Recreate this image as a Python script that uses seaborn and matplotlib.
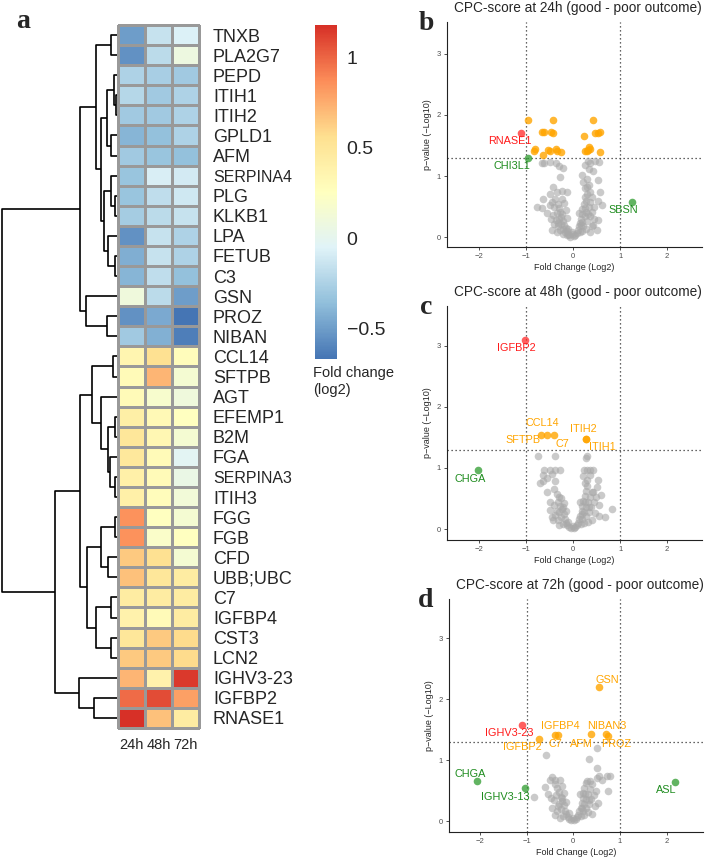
import numpy as np
import pandas as pd
import matplotlib
matplotlib.use("Agg")
import matplotlib.pyplot as plt
import seaborn as sns
from matplotlib.colors import LinearSegmentedColormap

# ---- panel a: heatmap data (fold change, log2) ----
proteins = ["TNXB", "PLA2G7", "PEPD", "ITIH1", "ITIH2", "GPLD1", "AFM", "SERPINA4",
            "PLG", "KLKB1", "LPA", "FETUB", "C3", "GSN", "PROZ", "NIBAN", "CCL14",
            "SFTPB", "AGT", "EFEMP1", "B2M", "FGA", "SERPINA3", "ITIH3", "FGG", "FGB",
            "CFD", "UBB;UBC", "C7", "IGFBP4", "CST3", "LCN2", "IGHV3-23", "IGFBP2", "RNASE1"]
fc_24h = [-0.50, -0.55, -0.25, -0.22, -0.30, -0.40, -0.30, -0.33, -0.33, -0.28, -0.55,
          -0.43, -0.40, 0.10, -0.55, -0.30, 0.35, 0.30, 0.30, 0.42, 0.50, 0.48, 0.40,
          0.40, 0.85, 0.85, 0.65, 0.68, 0.45, 0.38, 0.50, 0.65, 0.72, 0.98, 1.18]
fc_48h = [-0.15, -0.20, -0.27, -0.30, -0.30, -0.35, -0.33, -0.08, -0.18, -0.20, -0.15,
          -0.15, -0.18, -0.20, -0.45, -0.42, 0.55, 0.72, 0.18, 0.32, 0.33, 0.30, 0.30,
          0.28, 0.25, 0.20, 0.55, 0.50, 0.45, 0.30, 0.65, 0.65, 0.38, 1.08, 0.68]
fc_72h = [-0.07, 0.08, -0.30, -0.25, -0.25, -0.25, -0.35, -0.10, -0.12, -0.15, -0.25,
          -0.25, -0.35, -0.50, -0.67, -0.63, 0.28, 0.15, 0.10, 0.25, 0.15, -0.02, 0.05,
          0.12, 0.15, 0.25, 0.15, 0.45, 0.45, 0.45, 0.58, 0.58, 1.15, 0.80, 0.45]
time_labels = ["24h", "48h", "72h"]

# row clustering tree: (left, right, merge height)
tree_up = ((("TNXB", "PLA2G7", 0.12),
            ((("PEPD", ("ITIH1", "ITIH2", 0.02), 0.054), ("GPLD1", "AFM", 0.12), 0.206),
             (("SERPINA4", ("PLG", "KLKB1", 0.04), 0.12),
              ("LPA", ("FETUB", "C3", 0.04), 0.186), 0.254), 0.326), 0.42),
           ("GSN", ("PROZ", "NIBAN", 0.206), 0.62), 0.74)
tree_down = (((("CCL14", "SFTPB", 0.08),
               ("AGT", (("EFEMP1", "B2M", 0.04),
                        ("FGA", ("SERPINA3", "ITIH3", 0.04), 0.14), 0.174), 0.326), 0.506),
              ((("FGG", "FGB", 0.04), ("CFD", "UBB;UBC", 0.174), 0.326),
               (("C7", "IGFBP4", 0.12), ("CST3", "LCN2", 0.12), 0.42), 0.594), 0.74),
             ("IGHV3-23", ("IGFBP2", "RNASE1", 0.454), 0.76), 1.24)
tree = (tree_up, tree_down, 2.30)

# ---- panels b-d: volcano data (fold change log2, -log10 p) ----
grey_24h = [(-0.67, 1.21), (-0.50, 1.23), (-0.36, 1.21), (-0.29, 1.16), (-0.21, 1.14), (-0.62, 1.22),
            (0.31, 1.25), (0.36, 1.21), (0.47, 1.24), (0.56, 1.23), (0.33, 1.12), (0.43, 1.09), (0.26, 1.18),
            (-0.28, 0.98), (0.18, 1.01), (0.54, 0.93), (0.22, 0.90), (0.25, 0.80),
            (-0.42, 0.82), (-0.24, 0.76), (-0.49, 0.71), (-0.35, 0.74), (-0.14, 0.74), (-0.63, 0.63),
            (-0.77, 0.49), (-0.67, 0.47), (-0.49, 0.52), (-0.56, 0.39), (-0.45, 0.58), (-0.40, 0.50),
            (0.29, 0.82), (0.26, 0.66), (0.36, 0.74), (0.57, 0.74), (0.54, 0.60), (0.61, 0.52),
            (0.54, 0.28), (0.43, 0.20),
            (-0.38, 0.62), (-0.33, 0.55), (-0.30, 0.48), (-0.27, 0.42), (-0.35, 0.40), (-0.42, 0.36),
            (-0.25, 0.33), (-0.30, 0.30), (-0.37, 0.28), (-0.22, 0.27), (-0.26, 0.22), (-0.32, 0.18),
            (-0.19, 0.20), (-0.21, 0.14), (-0.16, 0.15), (-0.28, 0.12), (-0.14, 0.10), (-0.18, 0.08),
            (-0.11, 0.06), (-0.13, 0.03), (-0.08, 0.04), (-0.06, 0.01), (-0.22, 0.05), (-0.40, 0.22),
            (-0.48, 0.30), (-0.20, 0.56), (-0.16, 0.45), (-0.12, 0.32), (-0.23, 0.62), (-0.45, 0.12),
            (-0.35, 0.08), (0.02, 0.02), (0.05, 0.04), (0.08, 0.07), (0.10, 0.12), (0.12, 0.18),
            (0.14, 0.24), (0.16, 0.30), (0.18, 0.38), (0.20, 0.46), (0.23, 0.55), (0.27, 0.60),
            (0.30, 0.70), (0.20, 0.25), (0.25, 0.34), (0.28, 0.42), (0.33, 0.50), (0.37, 0.58),
            (0.40, 0.66), (0.22, 0.18), (0.30, 0.26), (0.35, 0.34), (0.40, 0.42), (0.45, 0.30),
            (0.40, 0.18), (0.15, 0.08), (0.20, 0.10), (0.28, 0.14), (0.12, 0.40), (0.33, 0.85),
            (0.30, 0.95), (0.45, 0.50), (0.50, 0.12), (0.35, 0.08), (0.00, 0.06), (-0.03, 0.08),
            (-0.10, 0.14), (-0.24, 0.38), (0.17, 0.20), (0.26, 0.48), (-0.33, 0.24), (0.31, 0.38)]
grey_48h = [(-0.75, 1.20), (-0.38, 1.20), (0.29, 1.20), (0.28, 1.16),
            (-0.61, 0.97), (-0.49, 0.97), (-0.38, 0.97), (-0.28, 0.97), (-0.63, 0.89), (-0.56, 0.83),
            (-0.63, 0.78), (-0.38, 0.78), (-0.45, 0.90),
            (0.23, 0.97), (0.29, 0.97), (0.36, 0.97), (0.42, 0.97), (0.22, 0.86), (0.29, 0.80),
            (0.54, 0.80), (0.50, 0.69), (0.43, 0.61), (0.35, 0.88),
            (0.82, 0.32), (0.68, 0.20), (0.60, 0.55), (0.55, 0.40),
            (-0.49, 0.31), (-0.42, 0.15), (-0.38, 0.23), (-0.70, 0.75), (-0.55, 0.60), (-0.50, 0.45),
            (-0.40, 0.66), (-0.35, 0.58), (-0.30, 0.52), (-0.33, 0.44), (-0.28, 0.38), (-0.40, 0.40),
            (-0.24, 0.32), (-0.30, 0.28), (-0.20, 0.25), (-0.25, 0.20), (-0.33, 0.14), (-0.18, 0.16),
            (-0.15, 0.10), (-0.22, 0.09), (-0.12, 0.06), (-0.09, 0.03), (-0.05, 0.02), (-0.26, 0.50),
            (-0.20, 0.42), (-0.15, 0.30), (-0.45, 0.20), (-0.30, 0.06),
            (0.02, 0.01), (0.05, 0.03), (0.08, 0.06), (0.11, 0.10), (0.13, 0.16), (0.15, 0.22),
            (0.18, 0.30), (0.20, 0.38), (0.22, 0.46), (0.25, 0.54), (0.28, 0.62), (0.30, 0.70),
            (0.24, 0.28), (0.28, 0.36), (0.32, 0.44), (0.36, 0.52), (0.40, 0.60), (0.20, 0.16),
            (0.27, 0.22), (0.33, 0.28), (0.38, 0.36), (0.44, 0.44), (0.46, 0.26), (0.40, 0.14),
            (0.16, 0.08), (0.24, 0.10), (0.32, 0.12), (0.15, 0.45), (0.26, 0.75), (0.48, 0.52),
            (0.55, 0.22), (0.00, 0.05), (-0.10, 0.12), (-0.22, 0.36), (0.18, 0.24), (0.26, 0.44),
            (-0.35, 0.30), (0.34, 0.36)]
grey_72h = [(-0.59, 1.08), (0.51, 1.20), (0.34, 1.01), (0.51, 0.87), (0.51, 0.70), (0.61, 0.67),
            (0.55, 0.73), (0.73, 0.73), (0.79, 0.73), (0.75, 0.50), (-0.84, 0.40), (-0.61, 0.55),
            (-0.50, 0.67), (-0.39, 0.67), (-0.28, 0.67), (-0.45, 0.72), (-0.55, 0.45), (-0.47, 0.38),
            (-0.40, 0.60), (-0.35, 0.54), (-0.30, 0.48), (-0.36, 0.42), (-0.27, 0.40), (-0.42, 0.34),
            (-0.25, 0.33), (-0.31, 0.28), (-0.20, 0.26), (-0.26, 0.20), (-0.35, 0.16), (-0.18, 0.16),
            (-0.15, 0.11), (-0.22, 0.08), (-0.12, 0.06), (-0.08, 0.03), (-0.04, 0.01), (-0.25, 0.58),
            (-0.20, 0.46), (-0.15, 0.32), (-0.45, 0.22), (-0.28, 0.05), (-0.38, 0.10),
            (0.02, 0.01), (0.05, 0.03), (0.08, 0.06), (0.11, 0.10), (0.13, 0.16), (0.16, 0.22),
            (0.18, 0.30), (0.20, 0.38), (0.22, 0.46), (0.24, 0.54), (0.27, 0.62), (0.29, 0.66),
            (0.24, 0.28), (0.28, 0.36), (0.32, 0.44), (0.36, 0.52), (0.40, 0.60), (0.20, 0.16),
            (0.27, 0.22), (0.33, 0.28), (0.38, 0.36), (0.44, 0.42), (0.46, 0.24), (0.40, 0.12),
            (0.16, 0.08), (0.24, 0.10), (0.32, 0.14), (0.15, 0.45), (0.48, 0.50), (0.54, 0.30),
            (0.00, 0.05), (0.35, 0.66), (-0.10, 0.13), (-0.23, 0.38), (0.18, 0.22), (0.26, 0.44),
            (-0.33, 0.24), (0.34, 0.34)]

orange_24h = [(-0.95, 1.91), (-0.43, 1.91), (-0.66, 1.72), (-0.62, 1.72), (-0.47, 1.72), (-0.42, 1.70),
              (-0.82, 1.45), (-0.83, 1.41), (-0.53, 1.42), (-0.49, 1.41), (-0.37, 1.44), (-0.35, 1.41),
              (-0.26, 1.40), (-0.63, 1.35), (0.43, 1.91), (0.24, 1.65), (0.47, 1.71), (0.53, 1.71),
              (0.57, 1.72), (0.34, 1.48), (0.35, 1.45), (0.25, 1.41), (0.29, 1.41), (0.31, 1.42),
              (0.57, 1.40)]
orange_48h = []
orange_72h = []

# labelled proteins: name, fc, p, group
hits_24h = [("RNASE1", -1.11, 1.71, "up"), ("CHI3L1", -0.96, 1.29, "other"),
            ("SBSN", 1.25, 0.57, "other")]
hits_48h = [("IGFBP2", -1.03, 3.10, "up"), ("CHGA", -2.02, 0.96, "other"),
            ("CCL14", -0.69, 1.54, "sig"), ("SFTPB", -0.56, 1.54, "sig"),
            ("C7", -0.40, 1.54, "sig"), ("ITIH2", 0.27, 1.47, "sig"), ("ITIH1", 0.28, 1.47, "sig")]
hits_72h = [("GSN", 0.56, 2.19, "sig"), ("IGFBP4", -0.38, 1.41, "sig"), ("C7", -0.32, 1.41, "sig"),
            ("IGFBP2", -0.73, 1.34, "sig"), ("AFM", 0.38, 1.43, "sig"), ("NIBAN3", 0.70, 1.43, "sig"),
            ("PROZ", 0.74, 1.40, "sig"), ("IGHV3-23", -1.09, 1.57, "up"),
            ("CHGA", -2.05, 0.65, "other"), ("IGHV3-13", -1.04, 0.54, "other"),
            ("ASL", 2.18, 0.64, "other")]

# label placement (offsets from the point, data units)
nudge_24h = [(-0.23, -0.13), (-0.34, -0.12), (-0.19, -0.13)]
nudge_48h = [(-0.17, -0.14), (-0.17, -0.14), (0.04, 0.20), (-0.50, -0.08), (0.17, -0.15),
             (-0.06, 0.17), (0.34, -0.12)]
nudge_72h = [(0.17, 0.12), (0.11, 0.15), (-0.07, -0.15), (-0.37, -0.12), (-0.20, -0.16),
             (0.01, 0.13), (0.19, -0.14), (-0.27, -0.13), (-0.16, 0.12), (-0.42, -0.14),
             (-0.18, -0.13)]

sns.set_style("white")
plt.rcParams["font.family"] = ["Liberation Sans", "DejaVu Sans"]

W, H = 708, 858
fig = plt.figure(figsize=(W / 100, H / 100), dpi=100)


def box(l, t, r, b):
    return [l / W, 1 - b / H, (r - l) / W, (b - t) / H]


ax_dend = fig.add_axes(box(2, 25, 117, 728))
ax_hm = fig.add_axes(box(118, 25, 199, 728))
ax_cb = fig.add_axes(box(315, 25, 337, 359))

# heatmap
df = pd.DataFrame({"24h": fc_24h, "48h": fc_48h, "72h": fc_72h}, index=proteins)
cmap = LinearSegmentedColormap.from_list(
    "rdylbu_rev", ["#4575B4", "#91BFDB", "#E0F3F8", "#FFFFBF", "#FEE090", "#FC8D59", "#D73027"])
sns.heatmap(df, ax=ax_hm, cmap=cmap, vmin=df.values.min(), vmax=df.values.max(),
            linewidths=1, linecolor="#999999", cbar_ax=ax_cb,
            cbar_kws={"ticks": [-0.5, 0, 0.5, 1]})
ax_hm.collections[0].set_clip_on(False)
ax_hm.yaxis.tick_right()
ax_hm.set_yticks(np.arange(len(proteins)) + 0.5)
ax_hm.set_yticklabels(proteins, rotation=0, fontsize=13)
for t in ax_hm.get_yticklabels():
    if t.get_text().startswith("SERPINA"):
        t.set_fontsize(11.5)
ax_hm.set_xticklabels(time_labels, rotation=0, fontsize=10.5)
ax_hm.tick_params(axis="y", length=0, pad=10)
ax_hm.tick_params(axis="x", length=0, pad=7)
ax_hm.set_xlabel("")
ax_hm.set_ylabel("")

cb = ax_hm.collections[0].colorbar
cb.outline.set_visible(False)
cb.ax.set_yticklabels(["\u22120.5", "0", "0.5", "1"])
cb.ax.tick_params(length=0, labelsize=14, pad=7)
fig.text(313 / W, 1 - 373 / H, "Fold change", fontsize=10.5, va="center", ha="left")
fig.text(313 / W, 1 - 390 / H, "(log2)", fontsize=10.5, va="center", ha="left")

# dendrogram
row_pos = {p: i + 0.5 for i, p in enumerate(proteins)}


def draw_tree(node, ax):
    if isinstance(node, str):
        return row_pos[node], 0.0
    left, right, h = node
    y1, h1 = draw_tree(left, ax)
    y2, h2 = draw_tree(right, ax)
    ax.plot([h1, h, h, h2], [y1, y1, y2, y2], color="black", lw=1.2,
            solid_capstyle="butt", clip_on=False)
    return (y1 + y2) / 2, h


draw_tree(tree, ax_dend)
ax_dend.set_xlim(tree[2], 0)
ax_dend.set_ylim(len(proteins), 0)
ax_dend.axis("off")

fig.text(23 / W, 1 - 28 / H, "a", family="Liberation Serif", weight="bold", fontsize=20,
         ha="center", va="baseline")

# volcano plots
colors = {"grey": "#A8A8A8", "sig": "#FFA500", "up": "#FF2A2A", "other": "#2E9B2E"}
alphas = {"grey": 0.6, "sig": 0.8, "up": 0.75, "other": 0.75}
text_colors = {"sig": "#FFA500", "up": "#FF1A1A", "other": "#1E8C1E"}

panels = [
    ("b", "CPC-score at 24h (good - poor outcome)", grey_24h, orange_24h, hits_24h, nudge_24h,
     box(447, 22, 702, 247), (-2.68, 2.74), (-0.16, 3.52)),
    ("c", "CPC-score at 48h (good - poor outcome)", grey_48h, orange_48h, hits_48h, nudge_48h,
     box(447, 306, 702, 540), (-2.68, 2.74), (-0.18, 3.65)),
    ("d", "CPC-score at 72h (good - poor outcome)", grey_72h, orange_72h, hits_72h, nudge_72h,
     box(449, 599, 703, 832), (-2.66, 2.78), (-0.18, 3.64)),
]

for letter, title, grey, orange, hits, nudge, pos, xlim, ylim in panels:
    ax = fig.add_axes(pos)
    pts = pd.concat([
        pd.DataFrame(grey, columns=["fc", "p"]).assign(group="grey"),
        pd.DataFrame(orange, columns=["fc", "p"]).assign(group="sig"),
        pd.DataFrame([(h[1], h[2], h[3]) for h in hits], columns=["fc", "p", "group"]),
    ], ignore_index=True)
    for g in ["grey", "sig", "up", "other"]:
        sub = pts[pts["group"] == g]
        if len(sub):
            sns.scatterplot(data=sub, x="fc", y="p", ax=ax, color=colors[g], alpha=alphas[g],
                            s=30, linewidth=0, legend=False)
    for (name, x, y, g), (dx, dy) in zip(hits, nudge):
        ax.text(x + dx, y + dy, name, color=text_colors[g], fontsize=7.8,
                ha="center", va="center")
    for v in (-1, 1):
        ax.axvline(v, color="#333333", lw=0.9, ls=(0, (1, 2.2)), zorder=0)
    ax.axhline(1.3, color="#333333", lw=0.9, ls=(0, (1, 2.2)), zorder=0)
    ax.set_xlim(*xlim)
    ax.set_ylim(*ylim)
    ax.set_xticks([-2, -1, 0, 1, 2])
    ax.set_yticks([0, 1, 2, 3])
    ax.set_xlabel("Fold Change (Log2)", fontsize=6.5, labelpad=2)
    ax.set_ylabel("p\u2212value (\u2212Log10)", fontsize=6.5, labelpad=3)
    ax.tick_params(labelsize=5.5, labelcolor="#4D4D4D", length=2.5, width=0.6,
                   color="#333333", pad=2, bottom=True, left=True)
    sns.despine(ax=ax)
    for s in ("left", "bottom"):
        ax.spines[s].set_linewidth(0.8)
        ax.spines[s].set_color("#222222")
    ax.annotate(title, xy=(0.5, 1), xycoords="axes fraction", xytext=(2.5, 10),
                textcoords="offset points", ha="center", va="center", fontsize=9.8)
    bb = ax.get_position()
    fig.text(426 / W, bb.y1 - 8 / H, letter, family="Liberation Serif", weight="bold",
             fontsize=20, ha="center", va="baseline")

fig.savefig("out.png", dpi=100)
